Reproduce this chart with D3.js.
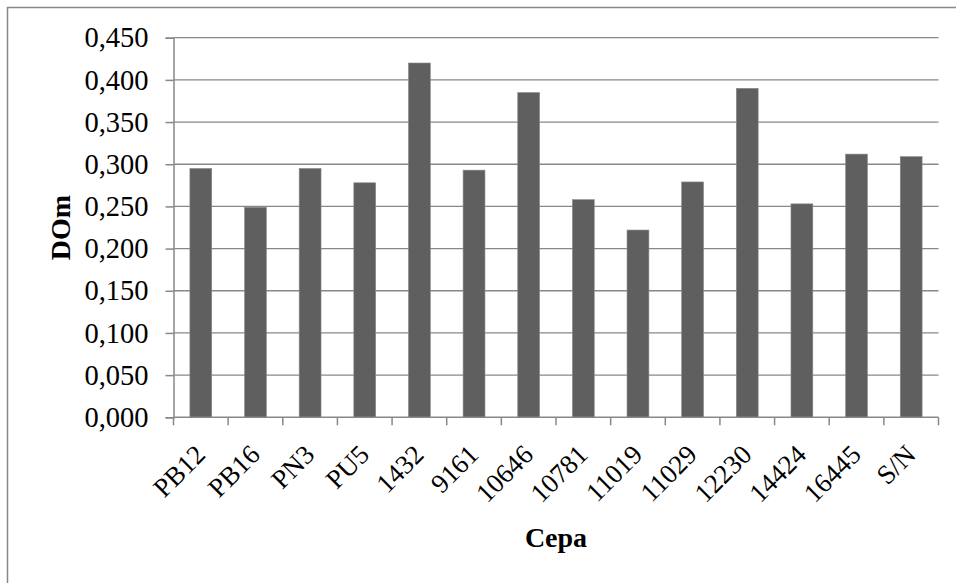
<!DOCTYPE html>
<html>
<head>
<meta charset="utf-8">
<script src="https://cdn.jsdelivr.net/npm/d3@7"></script>
<style>
  html, body { margin: 0; padding: 0; background: #fff; }
  svg { display: block; }
  text { font-family: "Liberation Serif", "Times New Roman", serif; fill: #000; }
</style>
</head>
<body>
<svg id="chart" width="956" height="583"></svg>
<script>
// DOm per strain
const categories = ["PB12", "PB16", "PN3", "PU5", "1432", "9161", "10646", "10781", "11019", "11029", "12230", "14424", "16445", "S/N"];
const values = [0.295, 0.249, 0.295, 0.278, 0.420, 0.293, 0.385, 0.258, 0.222, 0.279, 0.390, 0.253, 0.312, 0.309];
const yTicks = [0, 0.05, 0.1, 0.15, 0.2, 0.25, 0.3, 0.35, 0.4, 0.45];
const yTitle = "DOm";
const xTitle = "Cepa";

const svg = d3.select("#chart");
const W = 956, H = 583;
const margin = { left: 173.5, right: W - 938.5, top: 37.7, bottom: H - 417.3 };
const grey = "#888888";

// outer chart frame (runs off the right and bottom edges)
svg.append("rect")
  .attr("x", 7.5).attr("y", 7.5)
  .attr("width", 1000).attr("height", 700)
  .attr("fill", "none").attr("stroke", grey).attr("stroke-width", 1.5);

const x = d3.scaleBand()
  .domain(categories)
  .range([margin.left, W - margin.right])
  .paddingInner(0.6).paddingOuter(0.3);

const y = d3.scaleLinear()
  .domain([0, 0.45])
  .range([H - margin.bottom, margin.top]);

const fmt = v => d3.format(".3f")(v).replace(".", ",");

// horizontal gridlines
svg.append("g")
  .selectAll("line")
  .data(yTicks.filter(d => d > 0))
  .join("line")
  .attr("x1", margin.left).attr("x2", W - margin.right)
  .attr("y1", d => y(d)).attr("y2", d => y(d))
  .attr("stroke", grey).attr("stroke-width", 1.3);

// bars
svg.append("g")
  .selectAll("rect")
  .data(categories.map((c, i) => ({ c, v: values[i] })))
  .join("rect")
  .attr("x", d => x(d.c))
  .attr("width", x.bandwidth())
  .attr("y", d => y(d.v))
  .attr("height", d => y(0) - y(d.v))
  .attr("fill", "#5f5f5f")
  .attr("stroke", "#8a8a8a").attr("stroke-width", 0.6);

// y axis
const yAxis = d3.axisLeft(y)
  .tickValues(yTicks)
  .tickFormat(fmt)
  .tickSize(8)
  .tickPadding(17);
const gy = svg.append("g")
  .attr("transform", `translate(${margin.left},0)`)
  .call(yAxis);
gy.select(".domain").attr("stroke", grey).attr("stroke-width", 1.5);
gy.selectAll(".tick line").attr("stroke", grey).attr("stroke-width", 1.5);
gy.selectAll(".tick text")
  .attr("font-size", 28.5)
  .attr("font-family", "Liberation Serif")
  .attr("fill", "#000");

// x axis: baseline with tick marks at category boundaries
const boundaries = d3.range(categories.length + 1).map(i => margin.left + i * (W - margin.right - margin.left) / categories.length);
const gx = svg.append("g");
gx.append("line")
  .attr("x1", margin.left).attr("x2", W - margin.right)
  .attr("y1", y(0)).attr("y2", y(0))
  .attr("stroke", grey).attr("stroke-width", 1.5);
gx.selectAll("line.tk")
  .data(boundaries)
  .join("line")
  .attr("class", "tk")
  .attr("x1", d => d).attr("x2", d => d)
  .attr("y1", y(0)).attr("y2", y(0) + 8)
  .attr("stroke", grey).attr("stroke-width", 1.5);

// rotated category labels
gx.selectAll("text")
  .data(categories)
  .join("text")
  .attr("transform", d => `translate(${x(d) + x.bandwidth() / 2 + 6},${y(0) + 39}) rotate(-45)`)
  .attr("text-anchor", "end")
  .attr("font-size", 27)
  .text(d => d);

// axis titles
svg.append("text")
  .attr("transform", `translate(70,${(margin.top + H - margin.bottom) / 2}) rotate(-90)`)
  .attr("text-anchor", "middle")
  .attr("font-size", 28)
  .attr("font-weight", "bold")
  .text(yTitle);

svg.append("text")
  .attr("x", (margin.left + W - margin.right) / 2)
  .attr("y", 547)
  .attr("text-anchor", "middle")
  .attr("font-size", 28)
  .attr("font-weight", "bold")
  .text(xTitle);
</script>
</body>
</html>
